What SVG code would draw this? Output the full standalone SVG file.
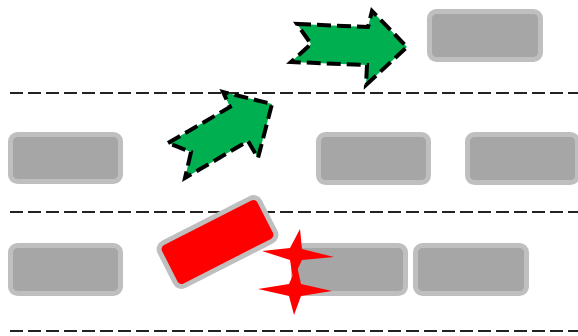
<svg xmlns="http://www.w3.org/2000/svg" width="578" height="336" viewBox="0 0 578 336">
<style>
.lane{stroke:#222;stroke-width:2;stroke-dasharray:13 5;fill:none}
.car{fill:#A6A6A6;stroke:#BFBFBF;stroke-width:5}
.arrow{fill:#00B050;stroke:#000;stroke-width:4;stroke-dasharray:14 6;stroke-linejoin:miter}
.crash{fill:#FF0000}
</style>
<rect width="578" height="336" fill="#fff"/>
<g id="lanes">
<line class="lane" x1="10" y1="93" x2="578" y2="93"/>
<line class="lane" x1="10" y1="212" x2="578" y2="212"/>
<line class="lane" x1="10" y1="331" x2="578" y2="331"/>
</g>
<g id="car-top"><rect class="car" x="429.5" y="11.5" width="111" height="48" rx="7"/></g>
<g id="car-mid-1"><rect class="car" x="10.5" y="134.5" width="110" height="47" rx="7"/></g>
<g id="car-mid-2"><rect class="car" x="318.5" y="134.5" width="110" height="48" rx="7"/></g>
<g id="car-mid-3"><rect class="car" x="467.5" y="134.5" width="110" height="48" rx="7"/></g>
<g id="car-bot-1"><rect class="car" x="10.5" y="245.5" width="110" height="48" rx="7"/></g>
<g id="car-bot-2"><rect class="car" x="293.5" y="245.5" width="112" height="48" rx="7"/></g>
<g id="car-bot-3"><rect class="car" x="415.5" y="245.5" width="111" height="48" rx="7"/></g>
<g id="connectors">
<polygon class="arrow" points="297,24 368,27 372,11 407,47 366,85 367,65 291,62 311,44"/>
<polygon class="arrow" points="168,143 230,107 223,92 272,104 258,158 248,141 185,178 191,152"/>
</g>
<g id="crashed-car"><rect fill="#FF0000" stroke="#BFBFBF" stroke-width="5" x="161.5" y="218" width="112" height="48" rx="7" transform="rotate(-27 217.5 242)"/></g>
<g id="crash-1"><polygon class="crash" points="300,229 302,249 334,257 302,260 293,279 290,260 262,251 290,248"/></g>
<g id="crash-2"><polygon class="crash" points="297,266 301,284 332,291 301,296 294,315 289,296 258,289 289,284"/></g>
</svg>
